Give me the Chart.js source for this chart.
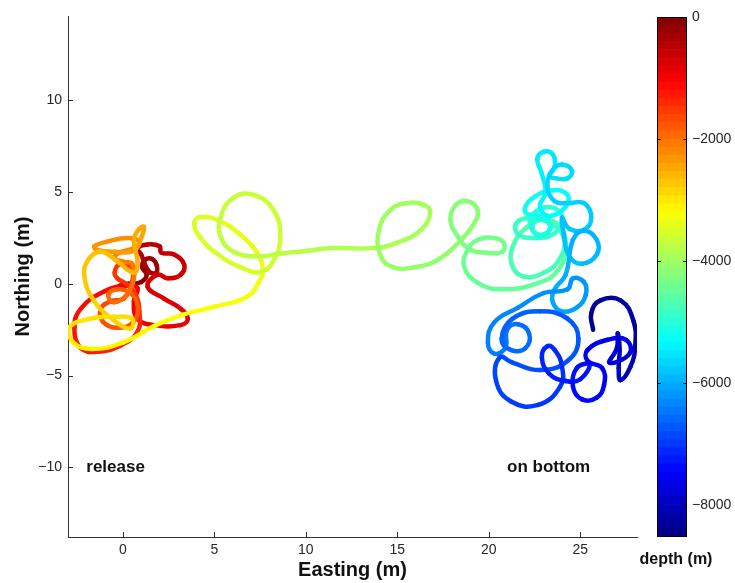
<!DOCTYPE html>
<html>
<head>
<meta charset="utf-8">
<script src="https://cdn.jsdelivr.net/npm/chart.js@4.4.0/dist/chart.umd.min.js"></script>
<style>
  body { margin: 0; background: #fff; }
  #wrap { position: relative; width: 735px; height: 583px; }
  #track { position: absolute; left: 0; top: 0; }
  #bar { position: absolute; left: 600px; top: 0; }
</style>
</head>
<body>
<div id="wrap">
  <canvas id="track" width="645" height="583"></canvas>
  <canvas id="bar" width="135" height="583"></canvas>
</div>
<script>
// trajectory: easting / northing in m, depth in m
const easting = [
  -0.2, 0.3, 1.0, 1.3, 1.05, 1.2, 1.6, 1.85, 1.8, 1.4, 1.0, 0.8, 1.35, 2.0, 2.1, 2.8, 3.35, 3.15, 2.45, 1.9,
  1.35, 2.25, 3.15, 3.55, 3.15, 1.7, 0.8, 0.6, 0.8,
  0.25, -1.0, -2.3, -2.65, -2.3, -1.4, -0.1, 0.8, 0.9, 0.7, 0.25, -0.3,
  -0.45, -0.2, 0.45, 0.5, 0.05, -0.65, -1.2, -1.1, -0.3, 0.6, 0.8, 0.4, -0.3, -0.8, -0.5, 0.2, 0.6,
  0.5, 0.05, -0.45, -0.2, 0.6, 0.9, 0.25, -0.85, -1.55, -1.4, -0.45, 0.6, 1.0, 1.15, 0.9, 0.6, 0.8,
  0.6, -0.4, -1.2, -1.9, -2.1, -1.6, -0.6, 0.4, 0.5, -0.5,
  -1.8, -2.95, -2.7, -1.7, 0.0, 1.7, 3.2, 5.0, 6.8, 7.4, 7.65, 7.3, 6.4, 5.35, 4.25, 3.9, 4.25, 5.2, 6.45, 7.55,
  8.25, 8.6, 8.25, 7.15, 6.05, 5.35, 5.35, 6.05, 7.4, 8.6, 10.1, 11.4, 13.7,
  15.0, 16.3, 16.8, 16.45, 15.55, 14.65, 14.0, 14.1, 14.8, 15.9, 17.2,
  18.5, 19.2, 19.4, 18.85, 18.2, 17.9, 18.3, 19.0, 19.95, 20.75, 20.8, 20.3, 19.4, 18.85, 18.65, 19.4, 20.8,
  22.7, 23.8, 24.2, 23.95, 23.2, 22.1, 21.3, 21.3, 21.9, 23.0,
  23.9, 24.1, 23.4, 22.3, 21.5, 21.6, 22.5, 23.5, 24.0, 23.8, 23.0, 22.3, 22.4, 23.0, 23.4,
  22.6, 22.4, 22.8, 23.3, 23.2, 22.8, 22.0, 22.3, 23.5, 24.3, 24.2, 23.3, 22.8,
  23.1, 22.9, 22.65, 23.0, 23.5, 23.6, 23.3, 23.7, 24.3, 24.55, 24.0, 23.5, 23.2,
  23.6, 24.3, 25.2, 25.6, 25.2, 24.4, 24.0, 24.1, 24.4, 25.1, 25.9, 25.9, 25.2, 24.6,
  24.2, 23.6, 23.5, 24.0, 24.8, 25.3, 25.2, 24.6, 24.3, 23.0, 21.6, 20.3, 19.95, 20.3,
  20.9, 21.0, 21.6, 22.2, 22.0, 21.2, 20.7, 21.3, 22.8, 24.3, 24.9, 24.3, 22.8, 21.3, 20.6,
  20.4, 21.2, 22.7, 23.9, 24.0, 23.6, 23.2, 22.9, 23.3, 24.2, 25.0,
  25.5, 24.8, 24.6, 25.1, 25.9, 26.3, 26.2, 25.4, 25.4, 26.5, 27.5, 27.7, 26.6,
  27.0, 27.05, 27.15, 27.1, 27.2, 27.75, 28.0, 27.9, 27.2, 26.1, 25.6, 25.7
];
const northing = [
  -0.1, 0.0, 0.1, 0.5, 0.9, 1.3, 1.35, 1.0, 0.6, 0.7, 1.6, 1.95, 2.15, 2.05, 1.7, 1.6, 1.05, 0.5, 0.3, 0.5,
  -0.15, -0.8, -1.35, -1.9, -2.25, -2.25, -1.9, -0.95, -0.25,
  -0.1, -0.4, -1.35, -2.4, -3.5, -3.7, -3.35, -2.6, -1.5, -0.6, -0.05, 0.3,
  0.6, 1.05, 0.85, 0.1, -0.8, -0.95, -1.35, -2.05, -2.4, -2.05, -1.15, -0.5, -0.3, -0.6, -1.0, -0.6, 0.3,
  1.1, 1.2, 1.4, 1.7, 1.95, 2.3, 2.5, 2.3, 2.05, 1.85, 1.75, 1.8, 2.5, 3.1, 3.0, 2.4, 1.2,
  0.6, 1.3, 1.75, 1.3, 0.4, -0.9, -1.9, -2.45, -1.9, -1.8,
  -1.9, -2.4, -3.2, -3.55, -3.2, -2.3, -1.7, -1.25, -0.7, 0.05, 0.75, 1.75, 2.7, 3.4, 3.65, 3.3, 2.5, 1.6, 0.9, 0.65,
  1.3, 2.55, 4.0, 4.85, 4.7, 3.65, 2.55, 1.75, 1.5, 1.65, 1.8, 1.95, 1.95,
  2.25, 2.95, 3.9, 4.3, 4.4, 4.05, 2.95, 1.5, 0.9, 0.9, 1.3,
  2.4, 3.3, 4.0, 4.5, 4.3, 3.5, 2.6, 1.85, 1.7, 1.75, 2.25, 2.5, 2.4, 1.85, 0.95, 0.05, -0.3,
  0.05, 0.75, 2.0, 3.05, 3.5, 3.1, 2.0, 0.95, 0.4, 0.6,
  1.4, 2.5, 3.3, 3.6, 3.3, 2.7, 2.5, 2.7, 3.4, 4.0, 4.15, 3.6, 2.9, 2.7, 3.2,
  3.5, 3.0, 2.6, 2.9, 3.5, 3.7, 3.9, 4.6, 5.1, 4.85, 4.2, 3.7, 4.2,
  5.0, 6.0, 6.8, 7.2, 7.05, 6.4, 5.9, 5.75, 5.75, 6.15, 6.5, 6.2, 5.3,
  4.5, 4.4, 4.4, 3.6, 2.95, 3.0, 3.6, 2.7, 1.5, 1.1, 1.6, 2.4, 2.9, 2.4,
  0.5, -0.3, -1.0, -1.5, -1.3, -0.6, 0.1, 0.3, -0.3, -0.5, -1.3, -2.1, -3.2, -3.8,
  -3.5, -2.5, -2.2, -2.7, -3.5, -3.6, -3.0, -1.9, -1.5, -1.9, -3.0, -4.2, -4.7, -4.3, -4.0,
  -5.3, -6.4, -6.6, -5.6, -4.5, -3.6, -3.4, -4.0, -4.9, -5.3, -5.2,
  -4.4, -4.6, -5.6, -6.3, -6.2, -5.5, -4.6, -4.2, -3.6, -3.05, -3.05, -3.8, -4.3,
  -3.5, -2.7, -3.6, -4.6, -5.25, -4.5, -3.4, -2.0, -0.9, -0.9, -1.6, -2.5
];
const depth = [
  0, -50, -100, -150, -200, -250, -280, -300, -330, -360, -400, -430, -460, -490, -520, -560, -600, -640, -680, -700,
  -740, -780, -820, -850, -880, -920, -950, -980, -1000,
  -1050, -1100, -1150, -1200, -1250, -1280, -1320, -1360, -1400, -1430, -1460, -1490,
  -1520, -1550, -1580, -1610, -1640, -1670, -1700, -1730, -1760, -1790, -1820, -1850, -1880, -1910, -1940, -1970, -2000,
  -2050, -2080, -2110, -2140, -2170, -2200, -2230, -2260, -2290, -2320, -2350, -2380, -2410, -2440, -2470, -2500, -2530,
  -2580, -2620, -2660, -2700, -2740, -2780, -2820, -2860, -2900, -2930,
  -2970, -3010, -3050, -3090, -3130, -3170, -3210, -3250, -3290, -3320, -3350, -3380, -3410, -3440, -3470, -3490, -3510, -3530, -3550, -3570,
  -3590, -3610, -3630, -3650, -3670, -3690, -3710, -3730, -3750, -3770, -3800, -3830, -3870,
  -3900, -3920, -3940, -3960, -3980, -4000, -4020, -4040, -4060, -4080, -4100,
  -4130, -4150, -4170, -4190, -4210, -4230, -4250, -4270, -4290, -4310, -4330, -4350, -4370, -4390, -4410, -4440, -4470,
  -4500, -4530, -4560, -4590, -4620, -4650, -4680, -4700, -4720, -4740,
  -4760, -4780, -4800, -4820, -4840, -4860, -4880, -4900, -4920, -4940, -4960, -4980, -5000, -5020, -5040,
  -5060, -5080, -5100, -5120, -5140, -5160, -5200, -5230, -5260, -5290, -5320, -5350, -5380,
  -5400, -5430, -5460, -5490, -5510, -5530, -5550, -5570, -5590, -5610, -5630, -5650, -5680,
  -5700, -5720, -5740, -5760, -5780, -5800, -5820, -5840, -5860, -5880, -5900, -5920, -5940, -5960,
  -6000, -6030, -6060, -6090, -6120, -6150, -6180, -6210, -6230, -6260, -6300, -6340, -6380, -6410,
  -6440, -6470, -6500, -6530, -6560, -6590, -6620, -6650, -6680, -6710, -6740, -6770, -6800, -6830, -6860,
  -6900, -6950, -7000, -7050, -7090, -7120, -7150, -7180, -7210, -7240, -7270,
  -7300, -7330, -7360, -7390, -7420, -7450, -7480, -7520, -7560, -7600, -7650, -7700, -7750,
  -7800, -7850, -7900, -7950, -8000, -8100, -8150, -8200, -8250, -8300, -8350, -8400
];

const xTicks = [0, 5, 10, 15, 20, 25];
const yTicks = [-10, -5, 0, 5, 10];
const depthTicks = [-8000, -6000, -4000, -2000, 0];
const xMin = -3, xMax = 28.1;
const yMin = -13.8, yMax = 14.6;
const depthMin = -8525, depthMax = 0;
const notes = [
  { text: 'release', x: -2.0, y: -10 },
  { text: 'on bottom', x: 21.0, y: -10 }
];

const FONT = '"Liberation Sans", Arial, sans-serif';
const AXIS = '#333';

function jet(d) {
  let t = (d - depthMin) / (depthMax - depthMin);
  t = Math.max(0, Math.min(1, t));
  const c = v => Math.round(255 * Math.max(0, Math.min(1, v)));
  const r = c(Math.min(4 * t - 1.5, -4 * t + 4.5));
  const g = c(Math.min(4 * t - 0.5, -4 * t + 3.5));
  const b = c(Math.min(4 * t + 0.5, -4 * t + 2.5));
  return 'rgb(' + r + ',' + g + ',' + b + ')';
}

const fmt = v => (v < 0 ? '\u2212' + Math.abs(v) : '' + v);

const tickFont = { family: FONT, size: 14 };
const titleFont = { family: FONT, size: 20, weight: 'bold' };

const innerTicks = {
  id: 'innerTicks',
  afterDraw(chart) {
    const { ctx, chartArea: a, scales } = chart;
    ctx.save();
    ctx.strokeStyle = AXIS;
    ctx.lineWidth = 1;
    ctx.beginPath();
    xTicks.forEach(v => {
      const px = Math.round(scales.x.getPixelForValue(v)) + 0.5;
      ctx.moveTo(px, a.bottom);
      ctx.lineTo(px, a.bottom - 5);
    });
    yTicks.forEach(v => {
      const py = Math.round(scales.y.getPixelForValue(v)) + 0.5;
      ctx.moveTo(a.left, py);
      ctx.lineTo(a.left + 5, py);
    });
    ctx.stroke();
    ctx.fillStyle = '#111';
    ctx.font = 'bold 17px ' + FONT;
    ctx.textBaseline = 'middle';
    notes.forEach(n => {
      ctx.fillText(n.text, scales.x.getPixelForValue(n.x), scales.y.getPixelForValue(n.y));
    });
    ctx.restore();
  }
};

new Chart(document.getElementById('track'), {
  type: 'scatter',
  data: {
    datasets: [{
      data: easting.map((x, i) => ({ x: x, y: northing[i] })),
      showLine: true,
      borderWidth: 4.5,
      borderColor: jet(depth[0]),
      pointRadius: 0,
      tension: 0.45,
      borderCapStyle: 'round',
      borderJoinStyle: 'round',
      segment: {
        borderColor: ctx => jet((depth[ctx.p0DataIndex] + depth[ctx.p1DataIndex]) / 2)
      }
    }]
  },
  options: {
    responsive: false,
    animation: false,
    layout: { padding: { top: 16, right: 8, left: 0, bottom: 0 } },
    plugins: { legend: { display: false }, tooltip: { enabled: false } },
    scales: {
      x: {
        type: 'linear',
        min: xMin,
        max: xMax,
        afterBuildTicks: s => { s.ticks = xTicks.map(v => ({ value: v })); },
        afterFit: s => { s.height = 46; },
        border: { display: true, color: AXIS, width: 1 },
        grid: { display: false, drawTicks: false },
        ticks: { font: tickFont, color: '#262626', padding: 5, maxRotation: 0, callback: fmt },
        title: { display: true, text: 'Easting (m)', font: titleFont, color: '#111', padding: { top: 0, bottom: 1 } }
      },
      y: {
        type: 'linear',
        min: yMin,
        max: yMax,
        afterBuildTicks: s => { s.ticks = yTicks.map(v => ({ value: v })); },
        afterFit: s => { s.width = 68; },
        border: { display: true, color: AXIS, width: 1 },
        grid: { display: false, drawTicks: false },
        ticks: { font: tickFont, color: '#262626', padding: 6, callback: fmt },
        title: { display: true, text: 'Northing (m)', font: titleFont, color: '#111', padding: { top: 11, bottom: 0 } }
      }
    }
  },
  plugins: [innerTicks]
});

// colour bar
const nColors = 64;
const step = (depthMax - depthMin) / nColors;
const barSets = [];
for (let i = 0; i < nColors; i++) {
  const lo = depthMin + i * step;
  barSets.push({
    data: [[lo, lo + step]],
    backgroundColor: jet(lo + step / 2),
    borderWidth: 0,
    grouped: false,
    barPercentage: 1,
    categoryPercentage: 1
  });
}

const barFrame = {
  id: 'barFrame',
  afterDraw(chart) {
    const { ctx, chartArea: a, scales } = chart;
    ctx.save();
    ctx.strokeStyle = '#000';
    ctx.lineWidth = 1;
    ctx.strokeRect(a.left + 0.5, a.top + 0.5, a.right - a.left - 1, a.bottom - a.top - 1);
    ctx.beginPath();
    depthTicks.forEach(v => {
      const py = Math.round(scales.y.getPixelForValue(v)) + 0.5;
      ctx.moveTo(a.left, py); ctx.lineTo(a.left + 4, py);
      ctx.moveTo(a.right, py); ctx.lineTo(a.right - 4, py);
    });
    ctx.stroke();
    ctx.fillStyle = '#111';
    ctx.font = 'bold 16px ' + FONT;
    ctx.textAlign = 'center';
    ctx.textBaseline = 'middle';
    ctx.fillText('depth (m)', (a.left + a.right) / 2 + 4, 560);
    ctx.restore();
  }
};

new Chart(document.getElementById('bar'), {
  type: 'bar',
  data: { labels: [''], datasets: barSets },
  options: {
    responsive: false,
    animation: false,
    layout: { padding: { top: 17, left: 57, bottom: 46, right: 0 } },
    plugins: { legend: { display: false }, tooltip: { enabled: false } },
    scales: {
      x: { display: false },
      y: {
        position: 'right',
        min: depthMin,
        max: depthMax,
        afterBuildTicks: s => { s.ticks = depthTicks.map(v => ({ value: v })); },
        afterFit: s => { s.width = 48; },
        border: { display: false },
        grid: { display: false, drawTicks: false },
        ticks: { font: tickFont, color: '#262626', padding: 5, callback: fmt }
      }
    }
  },
  plugins: [barFrame]
});
</script>
</body>
</html>
